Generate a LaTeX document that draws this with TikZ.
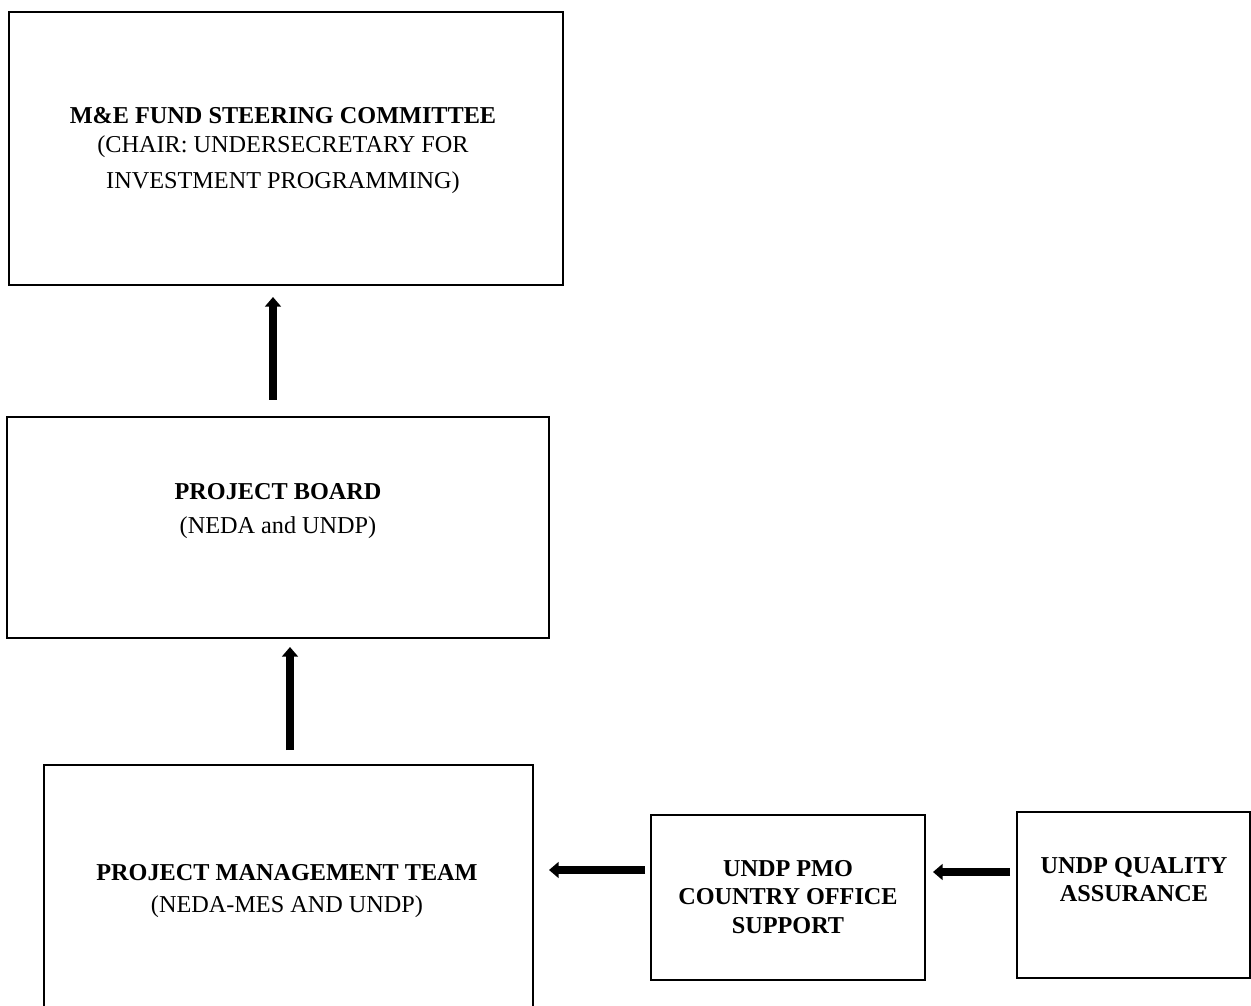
\documentclass[tikz,border=0pt]{standalone}
\usepackage{fontspec}
\setmainfont{Liberation Serif}
\usetikzlibrary{arrows.meta}
\begin{document}
\begin{tikzpicture}[x=0.02cm,y=-0.02cm,
  box/.style={draw=black,line width=1.1pt,fill=none},
  lbl/.style={font=\fontsize{13.8}{16}\selectfont,align=center,inner sep=0pt},
  flow/.style={line width=4.6pt,-{Triangle[width=9pt,length=5.5pt]}}]
\clip (0,0) rectangle (1251,1006);
\fill[white] (0,0) rectangle (1251,1006);
% boxes
\draw[box] (9,12) rectangle (563,285);
\draw[box] (7,417) rectangle (549,638);
\draw[box] (44,765) rectangle (533,1030);
\draw[box] (651,815) rectangle (925,980);
\draw[box] (1017,812) rectangle (1250,978);
% labels
\node[lbl] (mef) at (283,151) {\textbf{M\&E FUND STEERING COMMITTEE}\\(CHAIR: UNDERSECRETARY FOR\\[5pt]INVESTMENT PROGRAMMING)};
\node[lbl] (pb) at (278,511) {\textbf{PROJECT BOARD}\\[3pt](NEDA and UNDP)};
\node[lbl] (pmt) at (287,891) {\textbf{PROJECT MANAGEMENT TEAM}\\[2pt](NEDA-MES AND UNDP)};
\node[lbl] (pmo) at (788,897) {\textbf{UNDP PMO}\\\textbf{COUNTRY OFFICE}\\\textbf{SUPPORT}};
\node[lbl] (qa) at (1134,880) {\textbf{UNDP QUALITY}\\\textbf{ASSURANCE}};
% arrow anchor coordinates
\coordinate (a1s) at (273,400); \coordinate (a1e) at (273,297);
\coordinate (a2s) at (290,750); \coordinate (a2e) at (290,647);
\coordinate (a3s) at (645,870); \coordinate (a3e) at (549,870);
\coordinate (a4s) at (1010,872); \coordinate (a4e) at (933,872);
\draw[flow] (a1s) -- (a1e);
\draw[flow] (a2s) -- (a2e);
\draw[flow] (a3s) -- (a3e);
\draw[flow] (a4s) -- (a4e);
\end{tikzpicture}
\end{document}
